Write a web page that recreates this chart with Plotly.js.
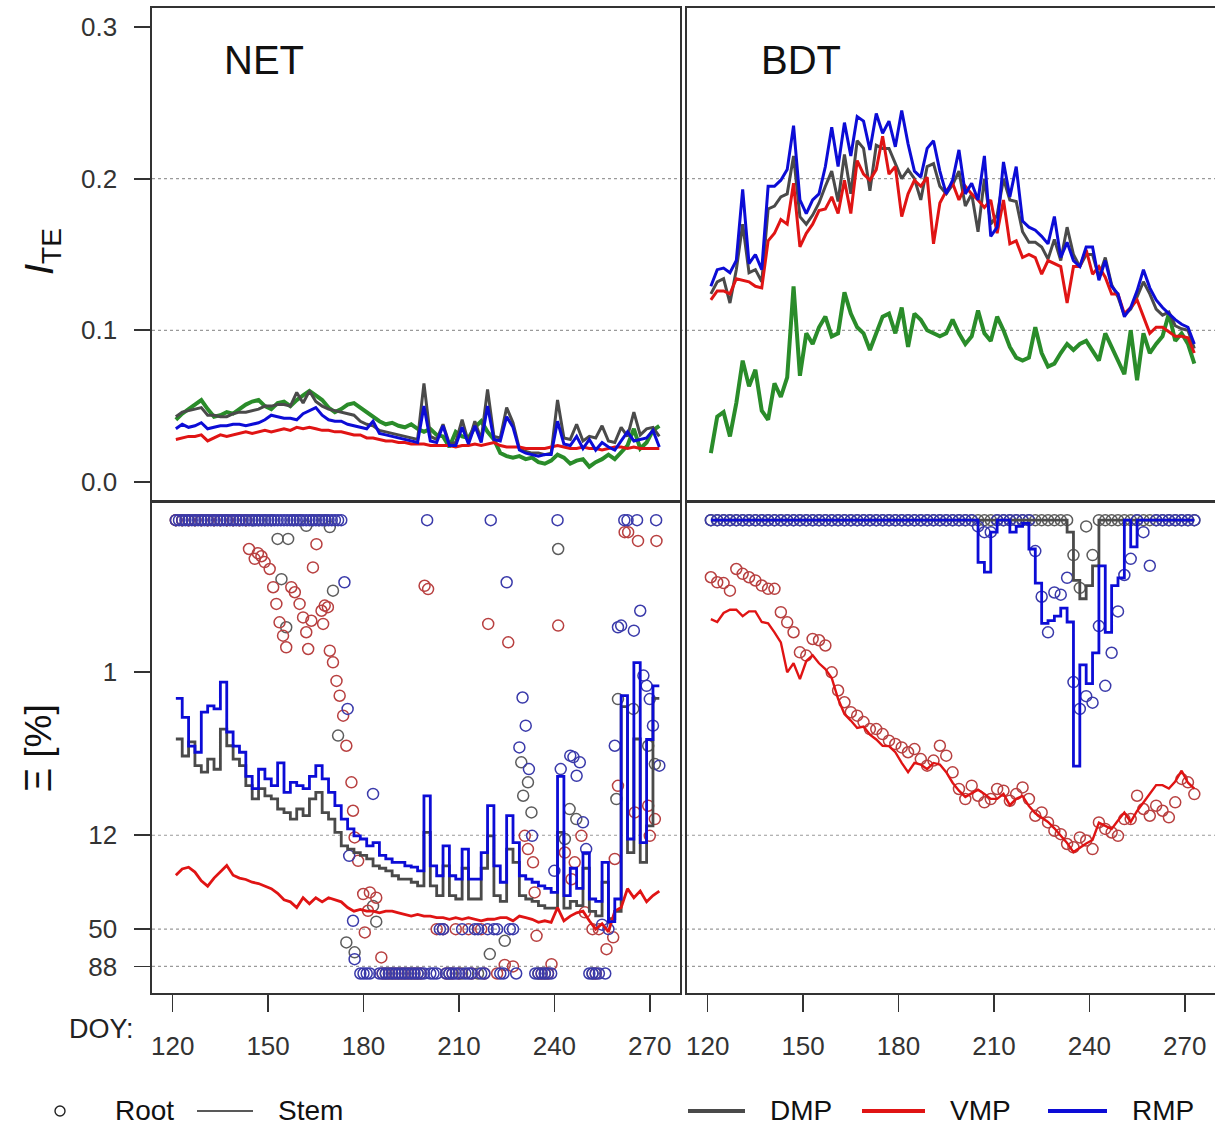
<!DOCTYPE html>
<html><head><meta charset="utf-8">
<script src="https://cdn.plot.ly/plotly-3.0.1.min.js"></script>
<style>html,body{margin:0;padding:0;background:#fff}#chart{width:1215px;height:1128px}</style>
</head><body><div id="chart"></div>
<script>
// ---------- categories ----------
const doy = [121,123,125,127,129,131,133,135,137,139,
141,143,145,147,149,151,153,155,157,159,
161,163,165,167,169,171,173,175,177,179,
181,183,185,187,189,191,193,195,197,199,
201,203,205,207,209,211,213,215,217,219,
221,223,225,227,229,231,233,235,237,239,
241,243,245,247,249,251,253,255,257,259,
261,263,265,267,269,271,273];
const xTicks = [120,150,180,210,240,270];
const iteTicks = [0.0,0.1,0.2,0.3];
const iteTickText = ['0.0','0.1','0.2','0.3'];
const xiTicks = [1,12,50,88];
const xiTickText = ['1','12','50','88'];
const iteGrid = [0.1,0.2];
const xiGrid = [12,50,88];

// ---------- NET  I_TE ----------
const netTopGreen = [0.041,0.045,0.048,0.051,0.054,0.048,0.043,0.044,0.046,0.045,
0.048,0.051,0.053,0.054,0.050,0.048,0.052,0.053,0.050,0.054,
0.057,0.060,0.057,0.054,0.049,0.046,0.048,0.051,0.052,0.049,
0.046,0.043,0.040,0.038,0.039,0.037,0.036,0.038,0.035,0.033,
0.035,0.031,0.030,0.023,0.033,0.030,0.029,0.036,0.040,0.033,
0.028,0.019,0.017,0.016,0.017,0.015,0.016,0.013,0.012,0.014,
0.018,0.016,0.012,0.014,0.015,0.010,0.013,0.015,0.018,0.015,
0.020,0.024,0.035,0.022,0.026,0.034,0.037];
const netTopDMP = [0.043,0.046,0.047,0.048,0.049,0.044,0.044,0.043,0.043,0.045,
0.046,0.046,0.047,0.048,0.050,0.050,0.051,0.051,0.050,0.059,
0.052,0.060,0.053,0.050,0.048,0.047,0.046,0.045,0.044,0.040,
0.038,0.037,0.034,0.033,0.032,0.031,0.030,0.029,0.028,0.065,
0.030,0.028,0.038,0.025,0.026,0.041,0.026,0.040,0.028,0.061,
0.030,0.029,0.049,0.039,0.022,0.020,0.019,0.019,0.018,0.019,
0.054,0.029,0.028,0.038,0.027,0.030,0.029,0.037,0.027,0.026,
0.036,0.030,0.046,0.031,0.035,0.036,0.030];
const netTopVMP = [0.028,0.029,0.030,0.030,0.031,0.027,0.029,0.031,0.030,0.031,
0.032,0.033,0.032,0.033,0.034,0.033,0.034,0.035,0.034,0.036,
0.035,0.036,0.035,0.034,0.034,0.033,0.033,0.032,0.031,0.031,
0.029,0.029,0.028,0.027,0.027,0.026,0.026,0.025,0.025,0.025,
0.024,0.024,0.024,0.024,0.023,0.024,0.024,0.025,0.024,0.025,
0.026,0.024,0.023,0.023,0.023,0.022,0.022,0.022,0.022,0.023,
0.024,0.023,0.022,0.022,0.023,0.022,0.022,0.021,0.022,0.023,
0.023,0.022,0.023,0.022,0.022,0.022,0.022];
const netTopRMP = [0.035,0.038,0.036,0.037,0.039,0.035,0.036,0.037,0.037,0.038,
0.038,0.037,0.038,0.039,0.041,0.044,0.043,0.042,0.042,0.041,
0.045,0.047,0.049,0.044,0.041,0.040,0.040,0.038,0.037,0.036,
0.035,0.040,0.032,0.031,0.030,0.029,0.028,0.027,0.026,0.050,
0.027,0.026,0.037,0.024,0.024,0.036,0.025,0.037,0.026,0.050,
0.028,0.027,0.043,0.036,0.021,0.019,0.018,0.017,0.018,0.018,
0.040,0.025,0.024,0.030,0.022,0.028,0.021,0.026,0.023,0.021,
0.027,0.033,0.027,0.028,0.029,0.034,0.023];

// ---------- BDT  I_TE ----------
const bdtTopGreen = [0.019,0.043,0.046,0.030,0.052,0.080,0.063,0.074,0.047,0.041,
0.065,0.056,0.069,0.129,0.070,0.098,0.091,0.102,0.109,0.096,
0.098,0.125,0.111,0.102,0.098,0.087,0.098,0.109,0.111,0.098,
0.115,0.089,0.111,0.107,0.100,0.098,0.096,0.098,0.107,0.098,
0.091,0.096,0.113,0.098,0.093,0.109,0.100,0.089,0.082,0.080,
0.082,0.102,0.085,0.076,0.078,0.085,0.091,0.087,0.091,0.093,
0.087,0.080,0.098,0.089,0.080,0.071,0.100,0.067,0.098,0.085,
0.091,0.096,0.111,0.093,0.098,0.091,0.078];
const bdtTopDMP = [0.124,0.132,0.134,0.118,0.140,0.170,0.138,0.140,0.132,0.180,
0.182,0.188,0.190,0.215,0.175,0.170,0.176,0.184,0.195,0.205,
0.185,0.216,0.190,0.225,0.220,0.192,0.222,0.220,0.220,0.210,
0.200,0.206,0.200,0.186,0.208,0.210,0.195,0.190,0.196,0.205,
0.182,0.190,0.165,0.200,0.170,0.176,0.200,0.186,0.185,0.165,
0.158,0.158,0.155,0.147,0.160,0.146,0.168,0.150,0.142,0.150,
0.150,0.135,0.148,0.130,0.122,0.110,0.114,0.122,0.132,0.124,
0.114,0.110,0.112,0.103,0.101,0.100,0.088];
const bdtTopVMP = [0.120,0.126,0.126,0.124,0.134,0.133,0.132,0.129,0.128,0.159,
0.164,0.173,0.170,0.197,0.155,0.164,0.170,0.179,0.180,0.188,
0.177,0.199,0.177,0.212,0.203,0.199,0.206,0.228,0.203,0.208,
0.175,0.190,0.199,0.195,0.201,0.157,0.184,0.192,0.197,0.186,
0.195,0.190,0.186,0.181,0.186,0.164,0.186,0.157,0.159,0.148,
0.150,0.148,0.137,0.146,0.144,0.142,0.118,0.142,0.142,0.153,
0.137,0.142,0.135,0.124,0.124,0.111,0.115,0.120,0.109,0.098,
0.102,0.102,0.099,0.096,0.096,0.095,0.085];
const bdtTopRMP = [0.129,0.140,0.141,0.138,0.146,0.193,0.144,0.150,0.140,0.195,
0.195,0.199,0.206,0.235,0.186,0.177,0.186,0.190,0.208,0.234,
0.208,0.237,0.215,0.241,0.238,0.219,0.243,0.230,0.238,0.221,
0.245,0.223,0.205,0.201,0.220,0.225,0.205,0.190,0.199,0.219,
0.190,0.197,0.186,0.215,0.162,0.168,0.211,0.188,0.208,0.172,
0.168,0.166,0.162,0.157,0.175,0.148,0.158,0.146,0.142,0.155,
0.155,0.133,0.146,0.129,0.124,0.109,0.115,0.126,0.140,0.128,
0.120,0.115,0.111,0.107,0.104,0.102,0.091];

// ---------- NET  Xi [%]  stem ----------
const netStemDMP = [2.78,3.6,2.9,4.17,4.6,3.77,4.4,2.39,3.08,3.77,
4.17,5.65,6.9,5.9,6.6,6.9,8.05,8.5,9.4,8.05,
8.9,6.9,6.25,8.5,9.4,11.5,14.1,14.8,15.6,16.3,
17.2,19.1,19.8,20.6,22.2,23.4,23.4,24.5,25.9,11.5,
25.9,30,19.1,30,31.6,19.8,31.6,31.6,19.8,12.1,
30,32.8,14.8,18.1,30,31.6,32.8,34.9,36.3,36.3,
11.5,36.3,32.8,34.9,19.8,38.1,40.8,24.5,42.6,38.1,
1.7,15.6,2.78,18.1,10.4,1.5,1.5];
const netStemVMP = [22,20,19.5,21,24,26,23,21,19,22,
23,23.5,24.5,25,26,27,29,32,33,36,
31,34,31,33,31,32,33,36,38,37,
38,38,39,38,38,39,40,41,40,41,
41,42,42,43,42,43,42,43,44,43,
43,42,42,44,41,42,43,45,44,45,
36,44,41,39,38,44,50,46,52,38,
36,27,31,28,33,30,28];
const netStemRMP = [1.5,2.0,3.1,3.4,1.85,1.68,1.76,1.17,2.5,3.1,
3.4,4.9,5.9,4.4,5.1,5.65,4.0,6.25,5.37,5.65,
5.9,4.9,4.17,5.1,6.25,7.66,9.4,10.9,12.1,12.7,
14.1,13.4,16.3,17.2,18.1,18.1,19.1,19.5,20.6,6.6,
19.1,22.2,14.1,22.2,23.4,14.8,23.4,23.4,15.6,7.66,
19.1,24.5,8.9,13.4,22.2,23.4,24.5,25.9,26.9,28.6,
4.9,30,19.8,26.9,15.6,31.6,32.8,18.1,44.6,31.6,
1.44,12.7,0.87,13.4,2.8,1.24,1.24];

// ---------- NET  Xi [%]  root ----------
const netRootDMPDoy = [121,123,125,127,129,131,133,135,137,139,141,143,145,147,149,151,
153,154.2,155.7,156.3,158,160,162,164,166,168,169.4,170.4,172,174.6,177.2,183,184,
187,189,191,193,195,197,207,211,216,219.7,224.4,229.6,230.2,231.7,232.8,235,237,
241.2,243.3,244.8,246.9,252,259.5,260,264.8,269.5,271.6];
const netRootDMPVal = [0.1,0.1,0.1,0.1,0.1,0.1,0.1,0.1,0.1,0.1,0.1,0.1,0.1,0.1,0.1,0.1,
0.133,0.245,0.509,0.133,0.1,0.1,0.109,0.1,0.1,0.1,0.111,0.292,2.64,61.1,71.1,35.1,44.6,
98,98,98,98,98,98,98,98,98,73.0,59.7,3.96,6.58,5.37,8.48,98,98,
0.155,12.7,8.06,9.38,98,6.92,1.515,1.76,3.08,4.07];

const netRootVMPDoy = [121,123,125,127,129,131,133,135,137,139,141,143,
144,145.8,146.8,147.9,148.9,150.5,151.6,152.6,153.6,154.7,155.7,157.3,158.4,159.9,161,162,162.6,163.6,164.1,165.2,
166.8,167.3,167.8,168.8,169.4,170.4,171.5,172.5,173.6,174.6,176.2,176.7,177.2,178.3,179.9,180.4,181.4,182,184,185.6,
186,188,190,192,194,196,198,199.2,200.3,
203,205,206,208,209,210,213,214,217,218,
219.2,222,224.4,225.5,227,
230.7,231.7,233.3,233.8,234.4,236,238,239.1,241.2,243.3,245.4,246.4,248.5,249.6,252,253,254,
256.4,258.5,259,260,262.1,263.2,265.3,266.3,269.5,270,271.6,272.1];
const netRootVMPVal = [0.1,0.1,0.1,0.1,0.1,0.1,0.1,0.1,0.1,0.1,0.1,0.1,
0.155,0.18,0.165,0.173,0.189,0.21,0.277,0.357,0.472,0.578,0.69,0.277,0.299,0.357,0.438,0.549,0.708,0.461,0.205,0.144,
0.396,0.484,0.366,0.375,0.727,0.867,1.15,1.44,1.95,3.08,5.37,8.27,12.4,17.7,29.3,52.5,37.8,28.6,31.0,76.8,
98,98,98,98,98,98,98,0.271,0.285,
50,50,98,98,50,98,50,98,50,98,
0.484,98,86,0.64,88,
12.1,14.8,18.1,28.6,55.3,98,98,85.1,0.496,15.6,23.4,18.1,12.1,38.7,50,98,50,
67.7,56.6,17.2,5.66,0.12,0.12,8.48,0.137,7.66,12.1,9.38,0.137];

const netRootRMPDoy = [121,122,123,124,125,126,127,128,129,130,131,132,133,134,135,136,137,138,139,140,
141,142,143,144,145,146,147,148,149,150,151,152,153,154,155,156,157,158,159,160,
161,162,163,164,165,166,167,168,169,170,171,172,173,
174,175,175.5,176.7,177.2,179,180,181,182,183,
185,186,187,188,189,190,191,192,193,194,195,196,197,198,199,200,
201,202,203,204,205,206,207,208,209,210,211,212,213,214,215,216,217,218,219,220,
221,222,223,224,225,226,227,228,
229,230,231,232,233,234,235,236,237,238,239,240,241,242,
245,246,247,248,249,250,251,252,253,254,255,256,257,
259,260,261,262,263,265,266,267,268,269,270,271,272,273];
const netRootRMPVal = [0.1,0.1,0.1,0.1,0.1,0.1,0.1,0.1,0.1,0.1,0.1,0.1,0.1,0.1,0.1,0.1,0.1,0.1,0.1,0.1,
0.1,0.1,0.1,0.1,0.1,0.1,0.1,0.1,0.1,0.1,0.1,0.1,0.1,0.1,0.1,0.1,0.1,0.1,0.1,0.1,
0.1,0.1,0.1,0.1,0.1,0.1,0.1,0.1,0.1,0.1,0.1,0.1,0.1,
0.257,1.76,16.4,44,78.8,98,98,98,98,6.4,
98,98,98,98,98,98,98,98,98,98,98,98,98,98,98,0.1,
98,98,98,50,50,98,98,98,98,98,50,98,98,98,50,50,98,98,50,0.1,
50,50,98,98,0.257,50,50,98,
3.16,1.48,2.27,4.39,12.1,98,98,98,98,98,98,20.6,0.1,4.39,
3.58,3.66,4.86,3.96,9.86,14.8,98,98,98,98,46.7,98,49.9,
3.08,0.509,0.496,0.1,0.1,0.536,0.1,0.396,1.06,1.24,1.515,2.27,0.1,4.17];

// ---------- BDT  Xi [%]  stem ----------
const bdtStemDMP = [0.1,0.1,0.1,0.1,0.1,0.1,0.1,0.1,0.1,0.1,
0.1,0.1,0.1,0.1,0.1,0.1,0.1,0.1,0.1,0.1,
0.1,0.1,0.1,0.1,0.1,0.1,0.1,0.1,0.1,0.1,
0.1,0.1,0.1,0.1,0.1,0.1,0.1,0.1,0.1,0.1,
0.1,0.1,0.1,0.1,0.1,0.1,0.1,0.1,0.1,0.1,
0.1,0.1,0.1,0.1,0.1,0.1,0.12,0.25,0.33,0.27,
0.2,0.1,0.1,0.1,0.1,0.1,0.1,0.1,0.1,0.1,
0.1,0.1,0.1,0.1,0.1,0.1,0.1];
const bdtStemVMP = [0.45,0.47,0.41,0.39,0.39,0.43,0.40,0.40,0.47,0.48,
0.55,0.64,1.01,0.88,1.12,0.85,0.78,0.88,0.96,1.10,
1.51,1.90,2.1,2.35,2.3,2.6,2.8,3.08,3.1,3.4,
4.0,4.6,4.0,4.1,4.4,4.0,4.1,4.6,5.4,6.1,
6.7,6.3,6.0,6.4,6.9,6.9,6.4,7.6,6.9,6.6,
7.7,8.6,9.2,9.8,10.8,12.0,13.5,15.5,14.5,13.6,
12.9,9.9,10.4,10.9,9.6,8.5,9.8,8.3,7.3,6.4,
5.6,5.6,5.9,5.3,4.5,5.4,5.9];
const bdtStemRMP = [0.1,0.1,0.1,0.1,0.1,0.1,0.1,0.1,0.1,0.1,
0.1,0.1,0.1,0.1,0.1,0.1,0.1,0.1,0.1,0.1,
0.1,0.1,0.1,0.1,0.1,0.1,0.1,0.1,0.1,0.1,
0.1,0.1,0.1,0.1,0.1,0.1,0.1,0.1,0.1,0.1,
0.1,0.1,0.19,0.22,0.12,0.1,0.1,0.12,0.11,0.105,
0.155,0.26,0.48,0.46,0.43,0.38,0.47,4.2,0.9,1.2,
0.75,0.2,0.55,0.27,0.24,0.1,0.15,0.1,0.1,0.1,
0.1,0.1,0.1,0.1,0.1,0.1,0.1];

// ---------- BDT  Xi [%]  root ----------
const bdtRootDMP = [0.1,0.1,0.1,0.1,0.1,0.1,0.1,0.1,0.1,0.1,
0.1,0.1,0.1,0.1,0.1,0.1,0.1,0.1,0.1,0.1,
0.1,0.1,0.1,0.1,0.1,0.1,0.1,0.1,0.1,0.1,
0.1,0.1,0.1,0.1,0.1,0.1,0.1,0.1,0.1,0.1,
0.1,0.1,0.1,0.1,0.1,0.1,0.1,0.1,0.1,0.1,
0.1,0.1,0.1,0.1,0.1,0.1,0.1,0.17,0.28,0.11,
0.17,0.1,0.1,0.1,0.1,0.1,0.1,0.1,0.1,0.1,
0.1,0.1,0.1,0.1,0.1,0.1,0.1];
const bdtRootVMP = [0.238,0.257,0.26,0.292,0.210,0.226,0.238,0.250,0.270,0.284,
0.284,0.405,0.472,0.549,0.745,0.783,0.608,0.62,0.671,1.01,
1.33,1.59,1.85,1.95,2.15,2.39,2.39,2.58,2.85,3.0,
3.16,3.40,3.24,3.77,4.17,3.86,3.08,3.58,4.61,5.94,
6.92,5.65,6.58,7.28,6.92,5.94,6.09,7.1,6.42,5.8,
6.92,8.92,8.48,9.87,11.2,11.8,13.7,14.4,12.4,13.0,
14.8,9.87,10.9,11.5,12.1,9.38,9.38,6.58,8.05,8.92,
7.66,8.27,9.14,7.28,5.10,5.37,6.42];
const bdtRootRMP = [0.1,0.1,0.1,0.1,0.1,0.1,0.1,0.1,0.1,0.1,
0.1,0.1,0.1,0.1,0.1,0.1,0.1,0.1,0.1,0.1,
0.1,0.1,0.1,0.1,0.1,0.1,0.1,0.1,0.1,0.1,
0.1,0.1,0.1,0.1,0.1,0.1,0.1,0.1,0.1,0.1,
0.1,0.1,0.11,0.12,0.12,0.1,0.1,0.1,0.1,0.1,
0.1,0.16,0.32,0.55,0.30,0.31,0.24,1.17,1.76,1.45,
1.6,0.5,1.24,0.75,0.4,0.23,0.18,0.1,0.12,0.2,
0.1,0.1,0.1,0.1,0.1,0.1,0.1];

// ---------- styling ----------
const C = {dmp:'#4a4a4a', vmp:'#e01414', rmp:'#0c0cd6', green:'#2a8c2a',
  dmpPt:'#5c5c5c', vmpPt:'#b84040', rmpPt:'#3a3aaa', axis:'#333333', grid:'#9a9a9a'};
const FONT = 'Liberation Sans, Arial, sans-serif';

function ln(x,y,xa,ya,color,w,shape){return {x:x,y:y,xaxis:xa,yaxis:ya,type:'scatter',mode:'lines',
  line:{color:color,width:w,shape:shape||'linear'},hoverinfo:'skip'};}
function pt(x,y,xa,ya,color){return {x:x,y:y,xaxis:xa,yaxis:ya,type:'scatter',mode:'markers',
  marker:{symbol:'circle-open',size:11,color:color,line:{color:color,width:1.5}},hoverinfo:'skip'};}

const traces = [
  ln(doy,netTopGreen,'x','y',C.green,4),
  ln(doy,netTopDMP,'x','y',C.dmp,3),
  ln(doy,netTopVMP,'x','y',C.vmp,3),
  ln(doy,netTopRMP,'x','y',C.rmp,3),
  ln(doy,bdtTopGreen,'x2','y2',C.green,4),
  ln(doy,bdtTopDMP,'x2','y2',C.dmp,3),
  ln(doy,bdtTopVMP,'x2','y2',C.vmp,3),
  ln(doy,bdtTopRMP,'x2','y2',C.rmp,3),
  pt(netRootDMPDoy,netRootDMPVal,'x3','y3',C.dmpPt),
  pt(netRootVMPDoy,netRootVMPVal,'x3','y3',C.vmpPt),
  pt(netRootRMPDoy,netRootRMPVal,'x3','y3',C.rmpPt),
  ln(doy,netStemDMP,'x3','y3',C.dmp,2.8,'hv'),
  ln(doy,netStemVMP,'x3','y3',C.vmp,2.8),
  ln(doy,netStemRMP,'x3','y3',C.rmp,2.8,'hv'),
  pt(doy,bdtRootDMP,'x4','y4',C.dmpPt),
  pt(doy,bdtRootVMP,'x4','y4',C.vmpPt),
  pt(doy,bdtRootRMP,'x4','y4',C.rmpPt),
  ln(doy,bdtStemDMP,'x4','y4',C.dmp,2.8,'hv'),
  ln(doy,bdtStemVMP,'x4','y4',C.vmp,2.4),
  ln(doy,bdtStemRMP,'x4','y4',C.rmp,2.8,'hv')
];

const XR = [113.5,279.5];
const LEFT = [0,0.4967], RIGHT = [0.5033,1], TOP = [0.4995,1], BOT = [0,0.4985];
const box = {showline:true,mirror:true,linecolor:C.axis,linewidth:1.6,zeroline:false,showgrid:false};
const tickf = {family:FONT,size:26,color:'#333'};

const layout = {
  width:1215,height:1128,margin:{l:152,r:0,t:8,b:135},
  paper_bgcolor:'#ffffff',plot_bgcolor:'#ffffff',showlegend:false,
  font:{family:FONT,color:'#222'},
  xaxis:Object.assign({domain:LEFT,range:XR,anchor:'y',showticklabels:false,ticks:''},box),
  yaxis:Object.assign({domain:TOP,range:[-0.0126,0.3126],anchor:'x',tickmode:'array',tickvals:iteTicks,ticktext:iteTickText,
    ticks:'outside',ticklen:16,tickwidth:1.6,tickcolor:C.axis,tickfont:tickf,ticklabelstandoff:12},box),
  xaxis2:Object.assign({domain:RIGHT,range:XR,anchor:'y2',showticklabels:false,ticks:''},box),
  yaxis2:Object.assign({domain:TOP,range:[-0.0126,0.3126],anchor:'x2',showticklabels:false,ticks:''},box),
  xaxis3:Object.assign({domain:LEFT,range:XR,anchor:'y3',tickmode:'array',tickvals:xTicks,
    ticks:'outside',ticklen:17,tickwidth:1.6,tickcolor:C.axis,tickfont:tickf,ticklabelstandoff:12},box),
  yaxis3:Object.assign({domain:BOT,type:'log',range:[2.12,-1.12],anchor:'x3',tickmode:'array',tickvals:xiTicks,ticktext:xiTickText,
    ticks:'outside',ticklen:16,tickwidth:1.6,tickcolor:C.axis,tickfont:tickf,ticklabelstandoff:12},box),
  xaxis4:Object.assign({domain:RIGHT,range:XR,anchor:'y4',tickmode:'array',tickvals:xTicks,
    ticks:'outside',ticklen:17,tickwidth:1.6,tickcolor:C.axis,tickfont:tickf,ticklabelstandoff:12},box),
  yaxis4:Object.assign({domain:BOT,type:'log',range:[2.12,-1.12],anchor:'x4',showticklabels:false,ticks:''},box),
  shapes:[],annotations:[]
};

// dotted reference lines
iteGrid.forEach(v=>layout.shapes.push({type:'line',xref:'paper',yref:'y',x0:0,x1:1,y0:v,y1:v,layer:'below',
  line:{color:C.grid,width:1.2,dash:'dot'}}));
xiGrid.forEach(v=>layout.shapes.push({type:'line',xref:'paper',yref:'y3',x0:0,x1:1,y0:v,y1:v,layer:'below',
  line:{color:C.grid,width:1.2,dash:'dot'}}));

// pixel -> paper helpers (plot area: x 152..1215, y 8..993)
const px = v=>(v-152)/1063, py = v=>(993-v)/985;
function ann(text,x,y,size,opts){return Object.assign({text:text,xref:'paper',yref:'paper',x:px(x),y:py(y),
  showarrow:false,xanchor:'center',yanchor:'middle',borderpad:0,font:{family:FONT,size:size,color:'#111'}},opts||{});}

layout.annotations.push(ann('NET',264,60,40));
layout.annotations.push(ann('BDT',801,60,40));
layout.annotations.push(ann('<i>I</i><sub>TE</sub>',42,252,40,{textangle:-90}));
layout.annotations.push(ann('\u039E [%]',38,748,37,{textangle:-90}));
layout.annotations.push(ann('DOY:',101,1029,27,{font:{family:FONT,size:27,color:'#222'}}));

// bottom legend
const LY = 1110;
layout.shapes.push({type:'circle',xref:'paper',yref:'paper',x0:px(55),x1:px(65),y0:py(LY+6),y1:py(LY-4),line:{color:'#222',width:1.4}});
layout.annotations.push(ann('Root',114,LY,28,{xanchor:'left'}));
layout.shapes.push({type:'line',xref:'paper',yref:'paper',x0:px(197),x1:px(253),y0:py(LY+1),y1:py(LY+1),line:{color:'#222',width:1.4}});
layout.annotations.push(ann('Stem',277,LY,28,{xanchor:'left'}));
[[688,745,C.dmp,769,'DMP'],[862,925,C.vmp,949,'VMP'],[1048,1107,C.rmp,1131,'RMP']].forEach(a=>{
  layout.shapes.push({type:'line',xref:'paper',yref:'paper',x0:px(a[0]),x1:px(a[1]),y0:py(LY+1),y1:py(LY+1),line:{color:a[2],width:4}});
  layout.annotations.push(ann(a[4],a[3],LY,28,{xanchor:'left'}));
});

Plotly.newPlot('chart',traces,layout,{displayModeBar:false,staticPlot:true});
</script>
</body></html>
